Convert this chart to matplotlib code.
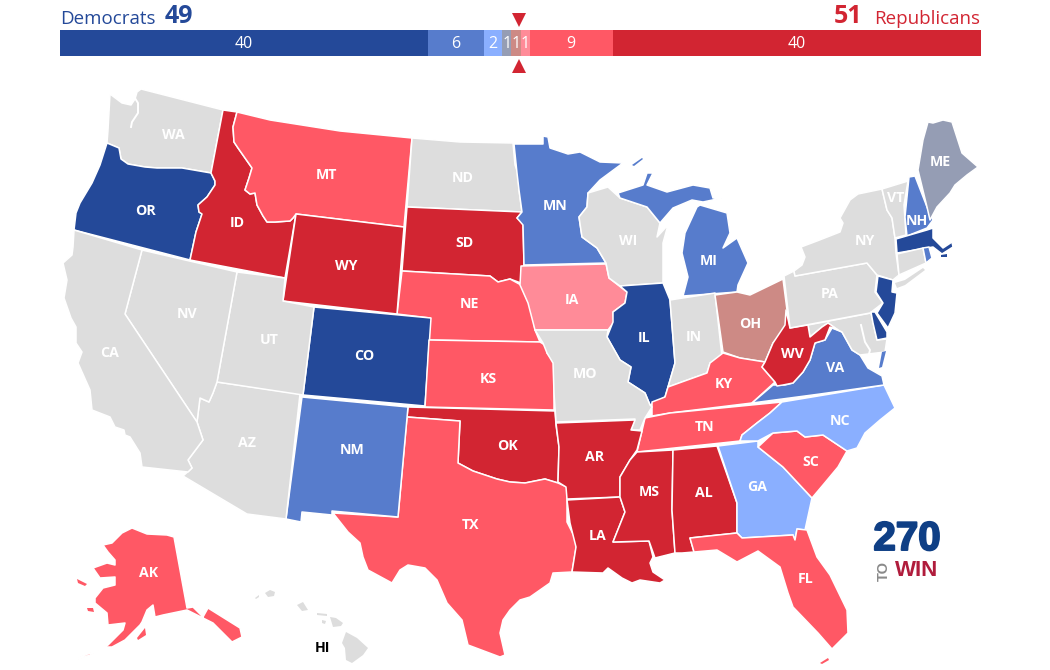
import matplotlib
matplotlib.use("Agg")
import matplotlib.pyplot as plt
import matplotlib.patheffects as pe
from matplotlib.patches import Polygon
from matplotlib.lines import Line2D

# ---- data -----------------------------------------------------------------
seat_counts = [40, 6, 2, 1, 1, 1, 9, 40]
seat_labels = ["40", "6", "2", "1", "1", "1", "9", "40"]
seat_ratings = ["safe_d", "likely_d", "lean_d", "tossup_d", "tossup_r", "lean_r", "likely_r", "safe_r"]
dem_total = "49"
rep_total = "51"

colors = dict(safe_d="#244999", likely_d="#577CCC", lean_d="#8AAFFF", tossup_d="#959DB4",
              tossup_r="#CD8A85", lean_r="#FF8B98", likely_r="#FF5865", safe_r="#D22532", none="#DDDDDD")

WA = [(110,94),(122,103),(131,105),(135,99),(137,92),(141,89),(223,110),(211,173),(182,168),(157,168),(145,167),(128,164),(121,159),(119,148),(107,143),(108,130)]
OR = [(107,143),(119,148),(121,159),(128,164),(145,167),(157,168),(182,168),(211,173),(215,181),(215,185),(207,197),(198,205),(199,212),(202,214),(196,232),(190,260),(74,230),(76,213),(80,203),(92,183),(100,165)]
ID = [(223,110),(237,112),(233,127),(234,142),(238,148),(252,168),(249,178),(245,190),(250,194),(255,193),(257,205),(263,216),(267,222),(275,222),(290,221),(293,218),(296,214),(285,278),(190,260),(196,232),(202,214),(199,212),(198,205),(207,197),(215,185),(215,181),(211,173)]
MT = [(237,112),(270,120),(340,131),(412,138),(404,227),(296,214),(293,218),(290,221),(275,222),(267,222),(263,216),(257,205),(255,193),(250,194),(245,190),(249,178),(252,168),(238,148),(234,142),(233,127)]
ND = [(412,138),(460,142),(513,143),(515,165),(518,173),(519,190),(522,212),(407,207)]
SD = [(407,207),(522,212),(517,218),(523,223),(524,265),(521,272),(521,283),(510,279),(498,282),(490,276),(402,271)]
NE = [(402,271),(490,276),(498,282),(510,279),(521,285),(525,295),(532,310),(535,330),(540,342),(429,340),(430,318),(397,314)]
WY = [(296,214),(404,227),(397,314),(283,301)]
CO = [(314,307),(431,318),(425,406),(303,395)]
KS = [(429,340),(540,342),(548,347),(547,353),(554,362),(554,410),(425,407)]
OK = [(408,407),(555,411),(556,425),(559,447),(558,483),(545,479),(535,481),(525,483),(510,482),(497,479),(473,471),(458,463),(460,421),(407,417)]
TX = [(407,417),(460,421),(458,463),(473,471),(497,479),(510,482),(525,483),(535,481),(545,479),(558,483),(567,487),(567,522),(577,542),(572,572),(553,573),(550,583),(530,597),(520,600),(510,610),(503,620),(500,633),(505,655),(500,657),(468,645),(462,620),(447,603),(437,580),(425,568),(408,565),(400,570),(392,583),(368,570),(363,557),(360,543),(348,532),(333,513),(398,517)]
NM = [(302,397),(408,407),(398,517),(332,511),(332,515),(302,512),(301,522),(286,519)]
AZ = [(217,382),(300,394),(286,519),(247,514),(183,476),(192,468),(188,460),(203,440),(197,422),(200,398),(209,402),(213,393)]
UT = [(237,272),(285,278),(283,301),(314,307),(303,395),(217,382)]
NV = [(142,250),(237,272),(217,382),(213,393),(209,402),(200,398),(197,422),(125,314)]
CA = [(74,230),(142,250),(125,314),(197,422),(203,440),(188,460),(192,468),(188,472),(142,467),(140,453),(130,437),(125,435),(124,430),(115,427),(110,417),(92,410),(90,390),(78,363),(82,352),(76,343),(76,327),(71,318),(64,298),(67,280),(63,263),(72,255),(73,247)]
MN = [(514,144),(543,144),(543,136),(548,137),(550,148),(568,154),(580,152),(600,162),(623,163),(600,180),(588,193),(587,207),(579,217),(582,237),(597,248),(606,263),(524,265),(523,225),(517,218),(522,212),(519,190),(517,173)]
IA = [(521,266),(606,264),(609,278),(627,292),(625,303),(613,312),(614,322),(608,330),(535,330),(528,303),(520,285)]
WI = [(588,193),(608,187),(620,198),(647,207),(660,223),(657,237),(668,225),(663,243),(663,283),(620,286),(609,278),(606,263),(597,248),(582,237),(579,217),(587,207)]
MI_UP = [(618,193),(643,185),(647,173),(653,173),(647,185),(667,192),(693,185),(710,188),(713,198),(722,198),(703,202),(692,200),(673,208),(660,223),(647,207),(620,198)]
MI_LP = [(700,205),(727,213),(730,233),(723,248),(737,238),(748,263),(738,285),(737,292),(683,296),(688,277),(682,253),(685,233),(697,207)]
IL = [(620,286),(663,283),(670,300),(675,363),(668,387),(665,397),(650,405),(645,393),(628,382),(631,367),(620,360),(607,337),(613,322),(613,312),(625,303),(627,292)]
IN = [(670,300),(715,293),(722,357),(710,363),(707,373),(693,378),(668,387),(675,363)]
OH = [(715,295),(737,292),(750,295),(783,279),(787,310),(787,327),(773,343),(765,362),(740,358),(723,352)]
KY = [(723,353),(740,358),(765,362),(762,367),(775,382),(752,403),(670,413),(652,416),(652,402),(665,397),(668,387),(693,378),(707,373),(710,363)]
TN = [(645,418),(670,413),(782,402),(770,413),(757,423),(742,435),(740,441),(637,452)]
MO = [(535,330),(608,330),(607,337),(620,360),(631,367),(628,382),(645,393),(650,405),(652,407),(645,418),(640,430),(631,430),(635,419),(556,422),(554,393),(553,363),(547,353),(543,343)]
AR = [(556,423),(635,420),(631,430),(642,431),(637,450),(630,460),(620,477),(620,497),(567,499),(566,487),(558,482),(559,447)]
LA = [(567,500),(620,497),(625,512),(613,542),(649,541),(653,557),(650,563),(653,572),(665,580),(660,583),(640,580),(632,583),(622,578),(608,568),(603,573),(572,572),(576,547),(570,523)]
MS = [(637,452),(673,450),(672,510),(675,553),(655,558),(649,541),(613,542),(625,512),(620,497),(620,477),(630,460)]
AL = [(673,450),(717,446),(737,503),(737,533),(690,538),(694,552),(682,553),(675,553),(672,510)]
GA = [(718,446),(758,441),(758,447),(783,467),(812,498),(805,530),(797,529),(795,540),(793,535),(742,538),(737,533),(737,503)]
FL = [(690,538),(737,533),(742,538),(793,535),(795,540),(797,529),(807,530),(817,557),(830,575),(847,610),(848,633),(832,649),(818,633),(793,607),(788,593),(780,567),(758,551),(737,562),(717,550),(694,552)]
SC = [(758,447),(773,433),(797,431),(805,437),(823,435),(847,451),(838,467),(823,485),(812,498),(783,467)]
NC = [(740,441),(742,435),(757,423),(770,413),(782,402),(884,385),(895,408),(880,420),(865,433),(857,448),(847,451),(823,435),(805,437),(797,431),(773,433),(758,441)]
VA = [(752,403),(773,385),(785,385),(793,383),(803,372),(810,360),(815,343),(825,340),(832,328),(842,332),(852,350),(860,355),(868,368),(882,376),(884,385),(820,394)]
WV = [(762,367),(765,362),(773,343),(785,325),(786,310),(790,328),(808,325),(810,337),(822,327),(828,323),(838,330),(830,327),(825,340),(815,343),(810,360),(803,372),(793,383),(783,385),(777,386),(775,382)]
MD = [(808,325),(871,313),(877,340),(887,339),(885,352),(860,355),(852,350),(842,332),(838,330),(828,323),(822,327),(810,337)]
PA = [(784,276),(794,271),(795,276),(867,263),(877,275),(875,292),(883,303),(870,313),(790,328)]
NY = [(795,276),(794,271),(802,265),(805,257),(801,247),(817,241),(840,232),(843,223),(840,218),(850,200),(858,194),(882,189),(887,210),(892,218),(895,238),(896,253),(899,275),(893,280),(877,275),(867,263)]
VT = [(882,189),(908,181),(904,205),(906,235),(895,238),(892,218),(887,210)]
NH = [(909,177),(915,176),(927,207),(933,220),(927,228),(907,236),(905,217)]
ME = [(918,170),(923,140),(928,122),(933,123),(943,120),(952,122),(962,153),(978,167),(967,175),(955,185),(950,193),(937,207),(930,220),(927,207)]
MA = [(896,239),(927,230),(933,228),(933,238),(943,248),(952,242),(953,247),(942,254),(933,247),(897,253)]
CT = [(897,254),(923,248),(926,263),(899,275)]
RI = [(923,248),(929,247),(932,258),(926,263)]
NJ = [(878,276),(893,280),(892,292),(897,293),(895,313),(888,328),(877,313),(883,303),(876,292)]
DE = [(871,312),(875,312),(887,332),(887,338),(877,340),(873,323)]
AK = [(174,537),(187,608),(193,607),(203,617),(208,608),(240,628),(242,637),(232,642),(213,623),(203,618),(187,610),(163,615),(155,617),(153,605),(147,610),(142,622),(140,625),(125,640),(112,647),(103,647),(90,655),(70,662),(80,657),(93,652),(108,645),(123,630),(125,623),(108,625),(107,613),(95,603),(95,598),(103,588),(115,585),(115,577),(100,578),(93,568),(107,563),(115,565),(115,560),(108,552),(103,545),(112,543),(122,533),(132,528),(147,534),(167,535)]

# small islands, drawn without a border
MI_ISLE = [(632,165),(642,158),(643,159),(634,166)]
FL_KEYS = [(820,663),(828,658),(829,660),(822,664)]
VA_SHORE = [(882,352),(886,351),(882,367),(879,368)]
NY_LI = [(895,283),(905,280),(923,268),(925,270),(905,285),(897,288)]
MA_ISLES = [(941,255),(947,254),(947,257),(941,257)]
AK_NUNIVAK = [(87,608),(93,608),(94,612),(88,611)]
AK_STLAWRENCE = [(77,579),(87,584),(85,586),(78,583)]
AK_KODIAK = [(137,638),(145,628),(146,635),(138,640)]
HI_BIG = [(346,632),(357,638),(368,648),(363,655),(352,663),(346,660),(345,648),(342,643)]
HI_MAUI = [(330,617),(336,618),(343,623),(341,626),(333,627)]
HI_OAHU = [(297,605),(303,602),(308,610),(302,611)]
HI_KAUAI = [(265,593),(270,590),(275,592),(274,596),(268,597)]
HI_NIIHAU = [(255,598),(259,595),(259,597),(256,599)]
HI_MOLOKAI = [(317,613),(327,614),(327,616),(317,615)]
HI_LANAI = [(322,620),(326,621),(325,624),(322,623)]

state_shapes = [
    (WA,"none"),(OR,"safe_d"),(ID,"safe_r"),(MT,"likely_r"),(ND,"none"),(SD,"safe_r"),(NE,"likely_r"),(WY,"safe_r"),
    (CO,"safe_d"),(KS,"likely_r"),(OK,"safe_r"),(TX,"likely_r"),(NM,"likely_d"),(AZ,"none"),(UT,"none"),(NV,"none"),(CA,"none"),
    (MN,"likely_d"),(IA,"lean_r"),(WI,"none"),(MI_UP,"likely_d"),(MI_LP,"likely_d"),(IL,"safe_d"),(IN,"none"),
    (OH,"tossup_r"),(KY,"likely_r"),(TN,"likely_r"),(MO,"none"),(AR,"safe_r"),(LA,"safe_r"),(MS,"safe_r"),(AL,"safe_r"),
    (GA,"lean_d"),(FL,"likely_r"),(SC,"likely_r"),(NC,"lean_d"),(VA,"likely_d"),(MD,"none"),(WV,"safe_r"),
    (PA,"none"),(NY,"none"),(VT,"none"),(NH,"likely_d"),(ME,"tossup_d"),(MA,"safe_d"),(CT,"none"),(RI,"likely_d"),(NJ,"safe_d"),(DE,"safe_d"),
    (AK,"likely_r"),
]
island_shapes = [
    (MI_ISLE,"likely_d"),(FL_KEYS,"likely_r"),(VA_SHORE,"likely_d"),(NY_LI,"none"),(MA_ISLES,"safe_d"),
    (AK_NUNIVAK,"likely_r"),(AK_STLAWRENCE,"likely_r"),(AK_KODIAK,"likely_r"),
    (HI_BIG,"none"),(HI_MAUI,"none"),(HI_OAHU,"none"),(HI_KAUAI,"none"),(HI_NIIHAU,"none"),(HI_MOLOKAI,"none"),(HI_LANAI,"none"),
]

# white water inlets
puget_sound = [(133,95),(138,103),(138,113),(132,122),(131,127)]
chesapeake = [(861,325),(865,342),(870,350),(868,358),(875,368)]

state_names = ["WA","OR","CA","NV","ID","MT","WY","UT","AZ","CO","NM","ND","SD","NE","KS","OK","TX","MN","IA","MO","AR","LA","WI","IL","MI","IN","OH","KY","TN","MS","AL","GA","FL","SC","NC","VA","WV","PA","NY","VT","NH","ME","AK"]
label_x = [173,146,110,187,237,326,346,269,247,364,352,463,464,469,488,508,471,555,572,585,595,598,628,644,709,694,750,724,705,649,704,757,806,811,840,835,792,830,865,896,917,940,149]
label_y = [135,211,353,314,223,175,266,340,443,356,450,178,243,304,379,446,525,206,300,374,457,536,241,338,261,337,324,384,427,492,493,487,579,462,421,368,354,294,241,198,221,162,573]

# ---- drawing --------------------------------------------------------------
plt.rcParams["font.family"] = ["Open Sans", "DejaVu Sans"]
fig = plt.figure(figsize=(10.5, 6.7), dpi=100, facecolor="white")
ax = fig.add_axes([0, 0, 1, 1])
ax.set_xlim(0, 1050)
ax.set_ylim(670, 0)
ax.axis("off")

for outline, rating in state_shapes:
    ax.add_patch(Polygon(outline, closed=True, facecolor=colors[rating], edgecolor="white", linewidth=1.1, joinstyle="round"))
for outline, rating in island_shapes:
    ax.add_patch(Polygon(outline, closed=True, facecolor=colors[rating], edgecolor="none", linewidth=0))
for inlet in (puget_sound, chesapeake):
    xs, ys = zip(*inlet)
    ax.add_line(Line2D(xs, ys, color="white", lw=1.4))

for name, x, y in zip(state_names, label_x, label_y):
    ax.text(x, y, name, color="white", fontsize=10.2, fontweight="bold", ha="center", va="center")
ax.text(322, 648, "HI", color="black", fontsize=10.2, fontweight="bold", ha="center", va="center")

# header text
ax.text(60, 18.5, "Democrats", color=colors["safe_d"], fontsize=13.5, ha="left", va="center")
ax.text(165, 16.5, dem_total, color=colors["safe_d"], fontsize=18, fontweight="bold", ha="left", va="center")
ax.text(980, 18.5, "Republicans", color=colors["safe_r"], fontsize=13.5, ha="right", va="center")
ax.text(862, 16.5, rep_total, color=colors["safe_r"], fontsize=18, fontweight="bold", ha="right", va="center")
ax.plot([519], [20], marker="v", ms=9.5, color=colors["safe_r"], mew=0)
ax.plot([519], [66], marker="^", ms=9.5, color=colors["safe_r"], mew=0)

# logo
ax.text(907, 539, "270", color="#0F3F85", fontsize=29, fontweight="bold", family=["Liberation Sans"], ha="center", va="center",
        path_effects=[pe.withStroke(linewidth=1.4, foreground="#0F3F85")])
ax.text(895, 571, "WIN", color="#B01C3C", fontsize=16, fontweight="bold", family=["Liberation Sans"], ha="left", va="center")
ax.text(884, 571, "TO", color="#8A8A8A", fontsize=10.5, rotation=90, fontweight="bold", family=["Liberation Sans"], ha="center", va="center")

# seat bar
bar_ax = fig.add_axes([60/1050, 1-56/670, 921/1050, 26/670])
bar_ax.set_xlim(0, sum(seat_counts))
bar_ax.set_ylim(0, 1)
bar_ax.axis("off")
left = 0
for count, label, rating in zip(seat_counts, seat_labels, seat_ratings):
    bar_ax.barh(0.5, count, left=left, height=1, color=colors[rating], linewidth=0)
    bar_ax.text(left + count/2, 0.47, label, color="white", fontsize=11.5, ha="center", va="center")
    left += count

fig.savefig("out.png", dpi=100)
